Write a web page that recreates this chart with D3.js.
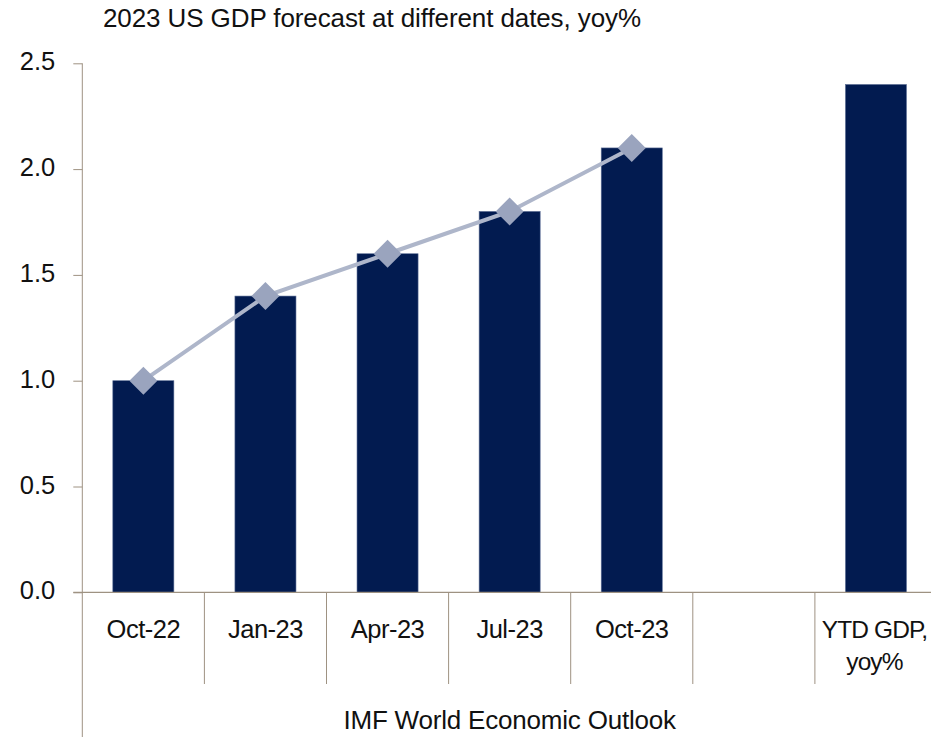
<!DOCTYPE html>
<html>
<head>
<meta charset="utf-8">
<script src="https://cdn.jsdelivr.net/npm/d3@7"></script>
<style>
  html, body { margin: 0; padding: 0; background: #fff; }
  svg { display: block; font-family: "Liberation Sans", Arial, sans-serif; }
</style>
</head>
<body>
<svg id="chart" width="931" height="737"></svg>
<script>
// Categories along the x axis (the empty slot separates the forecasts from the outturn)
const categories = ["Oct-22", "Jan-23", "Apr-23", "Jul-23", "Oct-23", "", "YTD GDP,\nyoy%"];
// Bar heights, yoy% (null = no bar)
const barValues = [1.0, 1.4, 1.6, 1.8, 2.1, null, 2.4];
// Forecast path drawn as a line with diamond markers
const lineCategories = ["Oct-22", "Jan-23", "Apr-23", "Jul-23", "Oct-23"];
const lineValues = [1.0, 1.4, 1.6, 1.8, 2.1];
// Y axis ticks
const yTicks = [0.0, 0.5, 1.0, 1.5, 2.0, 2.5];
const titleText = "2023 US GDP forecast at different dates, yoy%";
const groupLabel = "IMF World Economic Outlook";

const svg = d3.select("#chart");
const axisColor = "#9e9282";
const barColor = "#021b50";
const lineColor = "#aeb6ca";
const markerColor = "#9aa4be";

const plotLeft = 82.3, plotRight = 937, plotTop = 63.3, plotBottom = 592.3;

const x = d3.scaleBand()
  .domain(categories)
  .range([plotLeft, plotRight])
  .paddingInner(0.5)
  .paddingOuter(0.25);

const y = d3.scaleLinear()
  .domain([0, 2.5])
  .range([plotBottom, plotTop]);

// Title
svg.append("text")
  .attr("x", 103)
  .attr("y", 27)
  .attr("font-size", 26)
  .attr("letter-spacing", "-0.1px")
  .attr("fill", "#111")
  .text(titleText);

// Y axis
const yAxis = svg.append("g")
  .attr("transform", `translate(${plotLeft},0)`)
  .call(d3.axisLeft(y).tickValues(yTicks).tickFormat(d3.format(".1f")).tickSize(9).tickPadding(18));
yAxis.select(".domain").attr("stroke", axisColor).attr("d", `M0,${plotTop}V${plotBottom}`);
yAxis.selectAll(".tick line").attr("stroke", axisColor);
yAxis.selectAll(".tick text")
  .attr("font-size", 25.5)
  .attr("font-family", "Liberation Sans, Arial, sans-serif")
  .attr("fill", "#111")
  .attr("dy", "0.26em");

// Bars
svg.append("g").selectAll("rect")
  .data(categories.map((c, i) => ({ c, v: barValues[i] })).filter(d => d.v != null))
  .join("rect")
  .attr("x", d => x(d.c))
  .attr("width", x.bandwidth())
  .attr("y", d => y(d.v))
  .attr("height", d => y(0) - y(d.v))
  .attr("fill", barColor)
  .attr("stroke", "#5d6f96")
  .attr("stroke-width", 0.6);

// X axis line
svg.append("line")
  .attr("x1", plotLeft - 9).attr("x2", plotRight)
  .attr("y1", y(0)).attr("y2", y(0))
  .attr("stroke", axisColor).attr("stroke-width", 1.2);

// Category separators (first one also closes the group label box)
const step = x.step();
const boundaries = categories.map(c => x(c) - step * 0.25).concat([x(categories[categories.length - 1]) + x.bandwidth() + step * 0.25]);
svg.append("g").selectAll("line")
  .data(boundaries)
  .join("line")
  .attr("x1", d => d).attr("x2", d => d)
  .attr("y1", y(0))
  .attr("y2", (d, i) => i === 0 ? 737 : 684)
  .attr("stroke", axisColor)
  .attr("stroke-width", 1);

// Category labels (the two-line label at the right edge is set a touch tighter)
const catG = svg.append("g")
  .attr("fill", "#111")
  .attr("text-anchor", "middle");
categories.forEach(c => {
  const lines = c.split("\n");
  const multi = lines.length > 1;
  const cx = x(c) + x.bandwidth() / 2 - (multi ? 1.5 : 0);
  const t = catG.append("text")
    .attr("x", cx)
    .attr("y", 638)
    .attr("font-size", multi ? 24.5 : 25.5)
    .attr("letter-spacing", multi ? "-0.9px" : "-0.5px");
  lines.forEach((ln, i) => {
    t.append("tspan")
      .attr("x", cx)
      .attr("dy", i === 0 ? 0 : 31.5)
      .text(ln);
  });
});

// Group label
svg.append("text")
  .attr("x", (plotLeft + plotRight) / 2)
  .attr("y", 729)
  .attr("text-anchor", "middle")
  .attr("font-size", 26)
  .attr("letter-spacing", "-0.2px")
  .attr("fill", "#111")
  .text(groupLabel);

// Forecast line
const pts = lineCategories.map((c, i) => [x(c) + x.bandwidth() / 2, y(lineValues[i])]);
svg.append("path")
  .attr("d", d3.line()(pts))
  .attr("fill", "none")
  .attr("stroke", lineColor)
  .attr("stroke-width", 4);

// Diamond markers
svg.append("g").selectAll("path")
  .data(pts)
  .join("path")
  .attr("transform", d => `translate(${d[0]},${d[1]}) rotate(45)`)
  .attr("d", d3.symbol(d3.symbolSquare, 392))
  .attr("fill", markerColor);
</script>
</body>
</html>
